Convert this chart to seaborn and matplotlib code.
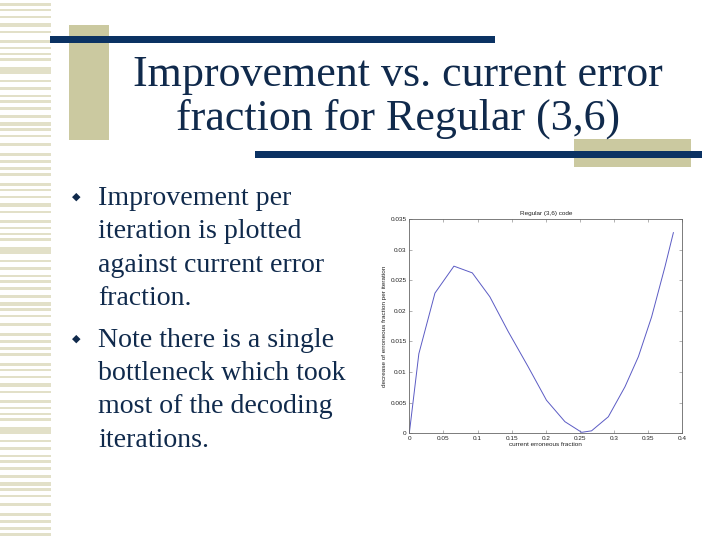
import matplotlib
matplotlib.use("Agg")
import matplotlib.pyplot as plt
import seaborn as sns
import pandas as pd
from matplotlib.patches import Rectangle

# ---- data ----
current_fraction = [0.0, 0.014, 0.0376, 0.0654, 0.0923, 0.118, 0.145, 0.174,
                    0.201, 0.228, 0.2525, 0.267, 0.2916, 0.316, 0.3356, 0.355,
                    0.3746, 0.387]
decrease_per_iter = [0.0, 0.013, 0.0229, 0.0273, 0.0262, 0.0223, 0.0166, 0.0109,
                     0.0054, 0.0019, 0.00016, 0.0004, 0.0027, 0.0076, 0.0125, 0.019,
                     0.0272, 0.0328]
x_ticks = [0, 0.05, 0.1, 0.15, 0.2, 0.25, 0.3, 0.35, 0.4]
x_tick_labels = ["0", "0.05", "0.1", "0.15", "0.2", "0.25", "0.3", "0.35", "0.4"]
y_ticks = [0, 0.005, 0.01, 0.015, 0.02, 0.025, 0.03, 0.035]
y_tick_labels = ["0", "0.005", "0.01", "0.015", "0.02", "0.025", "0.03", "0.035"]

title_lines = ["Improvement vs. current error", "fraction for Regular (3,6)"]
bullets = [
    ["Improvement per", "iteration is plotted", "against current error", "fraction."],
    ["Note there is a single", "bottleneck which took", "most of the decoding", "iterations."],
]

df = pd.DataFrame({"x": current_fraction, "y": decrease_per_iter})

sns.set_theme(style="white")
plt.rcParams['font.family'] = ['Liberation Serif', 'DejaVu Serif']

W, H = 720, 540
fig = plt.figure(figsize=(7.2, 5.4), dpi=100)
fig.patch.set_facecolor("white")

def px_rect(x0, y0, x1, y1, color):
    fig.patches.append(Rectangle((x0 / W, 1 - y1 / H), (x1 - x0) / W, (y1 - y0) / H,
                                 transform=fig.transFigure, color=color, lw=0, zorder=0))

# left stripe decoration
stripe_color = "#e2e0c8"
pattern = [(3, 3), (9, 2), (16, 2), (23, 4), (31, 2), (40, 3), (47, 2), (53, 2),
           (58, 3), (67, 7), (80, 2), (87, 3), (95, 2), (100, 3), (107, 3), (115, 3),
           (122, 4), (128, 3), (135, 2), (143, 3), (153, 3), (160, 3), (167, 3), (173, 3)]
for rep in range(4):
    for (yy, hh) in pattern:
        y0 = yy + rep * 180
        if y0 < H:
            px_rect(0, y0, 51, y0 + hh, stripe_color)

navy = "#0b3263"
beige = "#cbc9a0"
px_rect(69, 25, 109, 140, beige)
px_rect(50, 36, 495, 43, navy)
px_rect(574, 139, 691, 167, beige)
px_rect(255, 151, 702, 158, navy)

text_color = "#102a4c"
# title
fig.text(398 / W, 1 - 86 / H, title_lines[0], ha="center", va="baseline",
         fontsize=31.7, color=text_color, family=['Liberation Serif'])
fig.text(398 / W, 1 - 130 / H, title_lines[1], ha="center", va="baseline",
         fontsize=31.7, color=text_color, family=['Liberation Serif'])

# bullets
baselines = [[205, 238, 272, 305], [347, 380, 413, 447]]
for lines, bls in zip(bullets, baselines):
    fig.text(76 / W, 1 - (bls[0] - 8) / H, "\u25c6", ha="center", va="center",
             fontsize=8, color=text_color, family=['DejaVu Sans'])
    for line, b in zip(lines, bls):
        fig.text(98 / W, 1 - b / H, line, ha="left", va="baseline",
                 fontsize=20.1, color=text_color, family=['Liberation Serif'])

# chart
ax = fig.add_axes([409.3 / W, 1 - 433.3 / H, 273 / W, 214.3 / H])
sns.lineplot(data=df, x="x", y="y", ax=ax, sort=False, estimator=None,
             color="#5b5bc4", linewidth=0.7)
ax.set_xlim(0, 0.4)
ax.set_ylim(0, 0.035)
ax.set_xticks(x_ticks)
ax.set_xticklabels(x_tick_labels)
ax.set_yticks(y_ticks)
ax.set_yticklabels(y_tick_labels)
small = dict(family=['Liberation Sans', 'DejaVu Sans'], fontsize=4.6, color="#222222")
for lab in ax.get_xticklabels() + ax.get_yticklabels():
    lab.set_fontfamily(['Liberation Sans', 'DejaVu Sans'])
    lab.set_fontsize(4.6)
    lab.set_color("#222222")
ax.tick_params(direction="in", length=2, width=0.4, color="#777777",
               top=True, right=True, bottom=True, left=True, pad=2)
ax.set_xlabel("current erroneous fraction", labelpad=1, **small)
ax.set_ylabel("decrease of erroneous fraction per iteration", labelpad=2, **small)
ax.set_title("Regular (3,6) code", pad=3, **small)
for s in ax.spines.values():
    s.set_visible(True)
    s.set_linewidth(0.6)
    s.set_color("#666666")
ax.set_facecolor("white")

fig.savefig("out.png", dpi=100, facecolor="white")
